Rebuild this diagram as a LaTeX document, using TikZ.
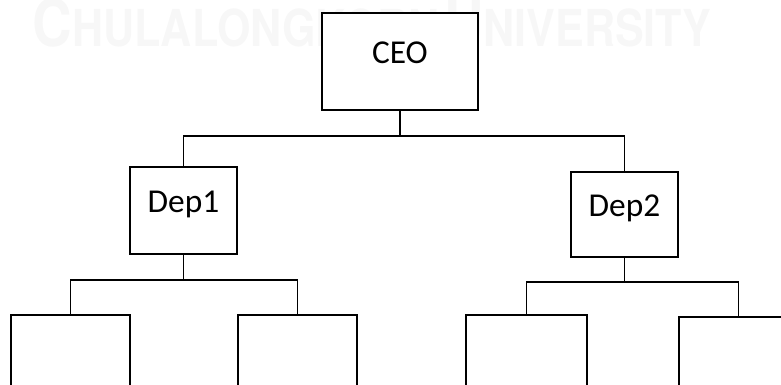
\documentclass[tikz,border=0pt]{standalone}
\usepackage{fontspec}
\setmainfont{Carlito}
\newfontfamily\markfont{TeX Gyre Heros}
\usetikzlibrary{positioning}

\newcommand{\wmbig}{\fontsize{37}{40}\selectfont}
\newcommand{\wmsmall}{\fontsize{29}{32}\selectfont}

\begin{document}
\begin{tikzpicture}[x=0.02cm, y=-0.02cm,
    box/.style={draw, fill=white, line width=0.7pt, inner sep=0pt, text height=3.2mm, text depth=2.4mm, font=\fontsize{19}{22}\selectfont},
    link/.style={draw, line width=1.1pt}]
    \useasboundingbox (0,0) rectangle (781,385);
    \clip (0,0) rectangle (781,385);

    % watermark
    \node[anchor=base west, inner sep=0pt, text=black!3, font=\markfont\bfseries] (mark) at (32,47)
        {\scalebox{0.845}[1]{{\wmbig C}{\wmsmall HULALONGKORN} {\wmbig U}{\wmsmall NIVERSITY}}};

    \node[box, minimum width=3.12cm, minimum height=1.94cm]  (ceo)   at (400,61.5)   {CEO};
    \node[box, minimum width=2.14cm, minimum height=1.74cm]  (dep1)  at (183.5,210.5) {Dep1};
    \node[box, minimum width=2.14cm, minimum height=1.70cm]  (dep2)  at (624.5,214.5) {Dep2};
    \node[box, minimum width=2.38cm, minimum height=2cm]     (dep1a) at (70.5,365)   {};
    \node[box, minimum width=2.38cm, minimum height=2cm]     (dep1b) at (297.5,365)  {};
    \node[box, minimum width=2.42cm, minimum height=2cm]     (dep2a) at (526.5,365)  {};
    \node[box, minimum width=2.38cm, minimum height=2cm]     (dep2b) at (738.5,367)  {};

    \draw[link] (ceo.south) -- ++(0,25) coordinate (top);
    \draw[link] (dep1.north) |- (top) -| (dep2.north);
    \draw[link] (dep1.south) -- ++(0,25) coordinate (mid1);
    \draw[link] (dep1a.north) |- (mid1) -| (dep1b.north);
    \draw[link] (dep2.south) -- ++(0,24) coordinate (mid2);
    \draw[link] (dep2a.north) |- (mid2) -| (dep2b.north);
\end{tikzpicture}
\end{document}
